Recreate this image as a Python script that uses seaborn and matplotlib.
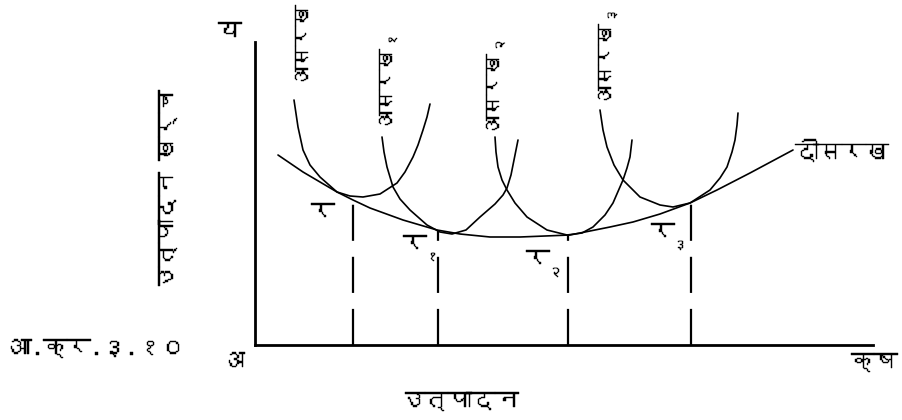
import numpy as np
import pandas as pd
import seaborn as sns
import matplotlib
matplotlib.use("Agg")
import matplotlib.pyplot as plt
import matplotlib.patheffects as pe
from matplotlib import font_manager
from fontTools.ttLib import TTFont


def find_deva_font():
    # pick any installed family that has Devanagari glyphs
    for f in font_manager.fontManager.ttflist:
        try:
            tt = TTFont(f.fname, fontNumber=0, lazy=True)
            cmap = tt.getBestCmap()
            if cmap and 0x0915 in cmap and 0x0967 in cmap:
                return f.name
        except Exception:
            pass
    return None


# curve points (x = output, y = cost)
sac0_x = [39, 43, 48, 55, 65, 82, 95, 108, 125, 142, 150, 158, 163, 168, 172, 175]
sac0_y = [245, 218, 195, 180, 168, 153, 149, 148, 151, 162, 173, 188, 200, 215, 228, 241]

sac1_x = [127, 129, 132, 138, 145, 155, 172, 185, 197, 211, 225, 240, 248, 252, 256, 259, 263]
sac1_y = [208, 193, 178, 158, 146, 135, 120, 113, 111, 115, 128, 141, 150, 157, 170, 185, 205]

sac2_x = [240, 241, 243, 247, 252, 260, 272, 292, 312, 327, 338, 350, 358, 368, 372, 375, 377]
sac2_y = [208, 193, 178, 165, 155, 142, 128, 115, 110, 112, 118, 130, 142, 165, 177, 188, 205]

sac3_x = [345, 348, 352, 359, 368, 385, 405, 418, 435, 455, 465, 472, 477, 480, 482, 483]
sac3_y = [235, 215, 198, 180, 165, 148, 140, 138, 142, 155, 167, 178, 193, 205, 220, 232]

lac_x = [23, 48, 82, 98, 115, 148, 182, 205, 235, 265, 290, 315, 355, 378, 405, 435, 462, 495, 538]
lac_y = [190, 173, 153, 145, 137, 125, 115, 111, 108, 108, 109, 110, 118, 123, 131, 142, 155, 172, 195]

# tangency points र, र१, र२, र३
tan_x = [98, 183, 313, 436]
tan_y = [145, 114, 110, 142]

sac_names = ["असरख", "असरख", "असरख", "असरख"]
sac_subs = ["", "१", "२", "३"]
pt_names = ["र", "र", "र", "र"]
pt_subs = ["", "१", "२", "३"]
lac_name = "दीसरख"
x_label = "उत्पादन"
y_label = "उत्पादन खर्च"
fig_label = "आ.क्र.३.१०"
origin_label = "अ"
y_end_label = "य"
x_end_label = "क्ष"

sns.set_theme(style="white")
deva = find_deva_font()
plt.rcParams["font.family"] = ([deva] if deva else []) + ["DejaVu Sans"]
plt.rcParams["lines.scale_dashes"] = False

fig = plt.figure(figsize=(9.02, 4.2), dpi=100)
ax = fig.add_axes([255 / 902, 75 / 420, 618 / 902, 303 / 420])

curves = [(sac0_x, sac0_y), (sac1_x, sac1_y), (sac2_x, sac2_y),
          (sac3_x, sac3_y), (lac_x, lac_y)]
for cx, cy in curves:
    sns.lineplot(x=cx, y=cy, color="black", linewidth=1.2, sort=False,
                 estimator=None, ax=ax)

for tx, ty in zip(tan_x, tan_y):
    ax.plot([tx, tx], [0, ty], color="black", linewidth=1.6,
            dashes=(26, 11.5))

ax.set_xlim(0, 618)
ax.set_ylim(0, 303)
ax.set_xticks([])
ax.set_yticks([])
for s in ["top", "right"]:
    ax.spines[s].set_visible(False)
for s in ["left", "bottom"]:
    ax.spines[s].set_color("black")
    ax.spines[s].set_linewidth(2.0)

thick = [pe.withStroke(linewidth=0.3, foreground="black")]
kw = dict(fontsize=17, clip_on=False, color="black", path_effects=thick)
vkw = dict(fontsize=15, clip_on=False, color="black", path_effects=thick)
skw = dict(fontsize=10, clip_on=False, color="black", path_effects=thick)

# short run curve labels (vertical, reading upward from the curve top)
sac_pos = [(48, 257), (132, 213), (239, 208), (351, 238)]
for i in range(4):
    t = ax.text(sac_pos[i][0], sac_pos[i][1], sac_names[i], rotation=90,
                ha="center", va="bottom", **vkw)
    if sac_subs[i]:
        ax.annotate(sac_subs[i], xy=(1, 1), xycoords=t, xytext=(-2, 1),
                    textcoords="offset points", rotation=90, ha="center",
                    va="bottom", **skw)

pt_pos = [(68, 132), (160, 100), (283, 85), (408, 112)]
for i in range(4):
    t = ax.text(pt_pos[i][0], pt_pos[i][1], pt_names[i], ha="center",
                va="center", **kw)
    if pt_subs[i]:
        ax.annotate(pt_subs[i], xy=(1, 0), xycoords=t, xytext=(-1, -2),
                    textcoords="offset points", ha="left", va="center",
                    **skw)

ax.text(540, 193, lac_name, ha="left", va="center", **kw)
ax.text(205, -57, x_label, ha="center", va="center", **kw)
ax.text(-87, 155, y_label, rotation=90, ha="center", va="center", **kw)
ax.text(-247, -4, fig_label, ha="left", va="center", **kw)
ax.text(-22, -17, origin_label, ha="center", va="center", **kw)
ax.text(-25, 313, y_end_label, ha="center", va="center", **kw)
ax.text(643, -18, x_end_label, ha="right", va="center", **kw)

fig.savefig("out.png", dpi=100, facecolor="white")
